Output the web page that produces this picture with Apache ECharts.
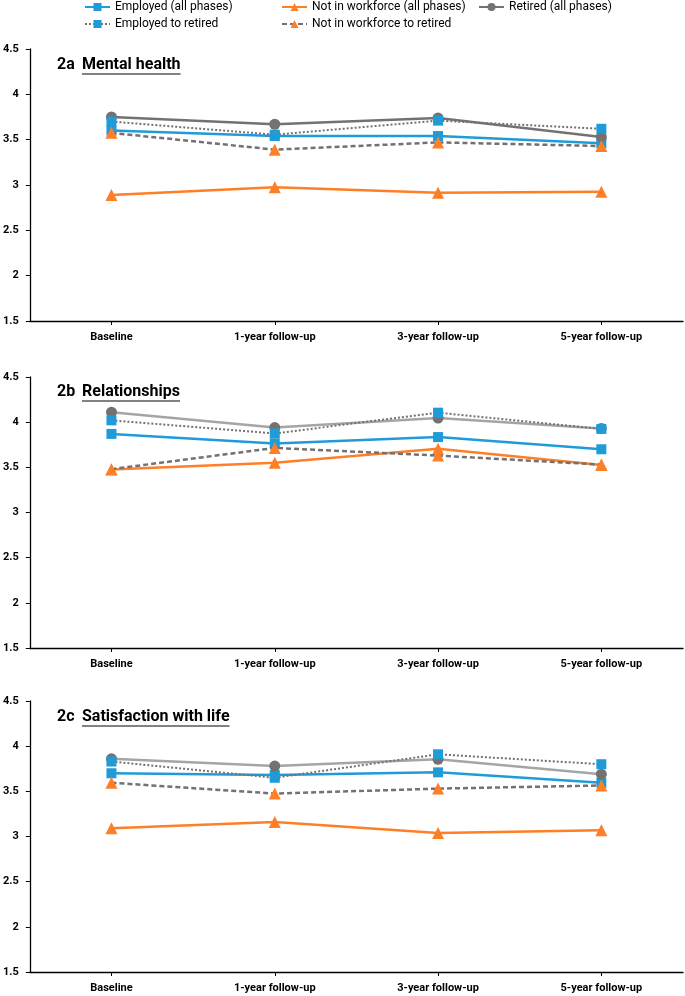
<!DOCTYPE html>
<html><head><meta charset="utf-8">
<script src="https://cdn.jsdelivr.net/npm/echarts@6/dist/echarts.min.js"></script>
<style>html,body{margin:0;padding:0;background:#fff}#c{width:685px;height:996px}</style>
</head><body><div id="c"></div>
<script>
// ---- data ----
const categories = ['Baseline', '1-year follow-up', '3-year follow-up', '5-year follow-up'];
const seriesNames = ['Employed (all phases)', 'Not in workforce (all phases)', 'Retired (all phases)', 'Employed to retired', 'Not in workforce to retired'];
const yMin = 1.5, yMax = 4.5, yInterval = 0.5;
const panelCodes = ['2a', '2b', '2c'];
const panelTitles = ['Mental health', 'Relationships', 'Satisfaction with life'];

// 2a Mental health
const mentalEmployed = [3.60, 3.54, 3.54, 3.46];
const mentalNotWork = [2.89, 2.975, 2.915, 2.925];
const mentalRetired = [3.75, 3.67, 3.74, 3.53];
const mentalEmpToRet = [3.70, 3.555, 3.71, 3.62];
const mentalNotWorkToRet = [3.575, 3.39, 3.47, 3.43];

// 2b Relationships
const relEmployed = [3.87, 3.765, 3.835, 3.70];
const relNotWork = [3.475, 3.55, 3.705, 3.525];
const relRetired = [4.11, 3.94, 4.045, 3.93];
const relEmpToRet = [4.02, 3.875, 4.105, 3.925];
const relNotWorkToRet = [3.48, 3.715, 3.63, 3.53];

// 2c Satisfaction with life
const lifeEmployed = [3.70, 3.68, 3.71, 3.595];
const lifeNotWork = [3.09, 3.16, 3.04, 3.07];
const lifeRetired = [3.86, 3.78, 3.855, 3.69];
const lifeEmpToRet = [3.83, 3.65, 3.91, 3.80];
const lifeNotWorkToRet = [3.595, 3.475, 3.53, 3.565];

const panelData = [
  [mentalEmployed, mentalNotWork, mentalRetired, mentalEmpToRet, mentalNotWorkToRet],
  [relEmployed, relNotWork, relRetired, relEmpToRet, relNotWorkToRet],
  [lifeEmployed, lifeNotWork, lifeRetired, lifeEmpToRet, lifeNotWorkToRet]
];

// ---- styles ----
const BLUE = '#1F9BD7', ORANGE = '#FF7F27', DGRAY = '#767171', LGRAY = '#A5A5A5';
const FONT = 'Roboto, "Liberation Sans", Arial, sans-serif';
const gridTops = [49, 377, 701];
const gridHeights = [272, 271, 271];

function styleFor(si, panel) {
  switch (si) {
    case 0: return { symbol: 'rect', symbolSize: 10, itemStyle: { color: BLUE }, lineStyle: { color: BLUE, width: 2.5, type: 'solid' } };
    case 1: return { symbol: 'triangle', symbolSize: 12, itemStyle: { color: ORANGE }, lineStyle: { color: ORANGE, width: 2.5, type: 'solid' } };
    case 2: return { symbol: 'circle', symbolSize: 11, itemStyle: { color: DGRAY }, lineStyle: { color: panel === 0 ? DGRAY : LGRAY, width: 2.5, type: 'solid' } };
    case 3: return { symbol: 'rect', symbolSize: 10, itemStyle: { color: BLUE }, lineStyle: { color: DGRAY, width: 2, type: [2, 2] } };
    case 4: return { symbol: 'triangle', symbolSize: 12, itemStyle: { color: ORANGE }, lineStyle: { color: DGRAY, width: 2.5, type: [5, 3] } };
  }
}

const grids = [], xAxes = [], yAxes = [], series = [];
for (let p = 0; p < 3; p++) {
  grids.push({ left: 29, right: 2, top: gridTops[p], height: gridHeights[p], containLabel: false });
  xAxes.push({
    type: 'category', gridIndex: p, data: categories, boundaryGap: true,
    axisLine: { lineStyle: { color: '#000', width: 1.3 } },
    axisTick: { show: true, alignWithLabel: true, length: 4, lineStyle: { color: '#000' } },
    axisLabel: { margin: 11, color: '#000', fontSize: 11, fontWeight: 'bold', fontFamily: FONT },
    splitLine: { show: false }
  });
  yAxes.push({
    type: 'value', gridIndex: p, min: yMin, max: yMax, interval: yInterval,
    axisLine: { show: true, lineStyle: { color: '#000', width: 1.3 } },
    axisTick: { show: true, length: 4, lineStyle: { color: '#000' } },
    axisLabel: { margin: 11, color: '#000', fontSize: 11, fontWeight: 'bold', fontFamily: FONT },
    splitLine: { show: false }
  });
  for (let s = 0; s < 5; s++) {
    series.push(Object.assign({
      type: 'line', name: seriesNames[s], xAxisIndex: p, yAxisIndex: p,
      data: panelData[p][s], showAllSymbol: true, animation: false,
      emphasis: { disabled: true }, z: 2 + s
    }, styleFor(s, p)));
  }
}

const legendPos = [[84, 1], [281, 1], [478, 1], [84, 18], [281, 18]];
const legends = seriesNames.map((n, i) => ({
  data: [n], left: legendPos[i][0], top: legendPos[i][1], padding: 0,
  itemWidth: 25, itemHeight: 10, itemGap: 0, selectedMode: false,
  textStyle: { fontSize: 12, color: '#000', fontFamily: FONT }
}));

// titles with underline
const cvs = document.createElement('canvas').getContext('2d');
const graphics = [];
const titleFont = 'bold 16px ' + FONT;
cvs.font = titleFont;
const titleY = [67, 394, 719];
for (let p = 0; p < 3; p++) {
  const x0 = 57, x1 = 82;
  const w = cvs.measureText(panelTitles[p]).width;
  graphics.push({ type: 'text', left: x0, top: titleY[p] - 10, style: { text: panelCodes[p], font: titleFont, fill: '#000' } });
  graphics.push({ type: 'text', left: x1, top: titleY[p] - 10, style: { text: panelTitles[p], font: titleFont, fill: '#000' } });
  graphics.push({ type: 'line', shape: { x1: x1, y1: titleY[p] + 7, x2: x1 + w, y2: titleY[p] + 7 }, style: { stroke: '#595959', lineWidth: 1.5 } });
}

const chart = echarts.init(document.getElementById('c'), null, { renderer: 'canvas' });
chart.setOption({
  animation: false, backgroundColor: '#fff',
  legend: legends, grid: grids, xAxis: xAxes, yAxis: yAxes, series: series, graphic: graphics
});
</script></body></html>
